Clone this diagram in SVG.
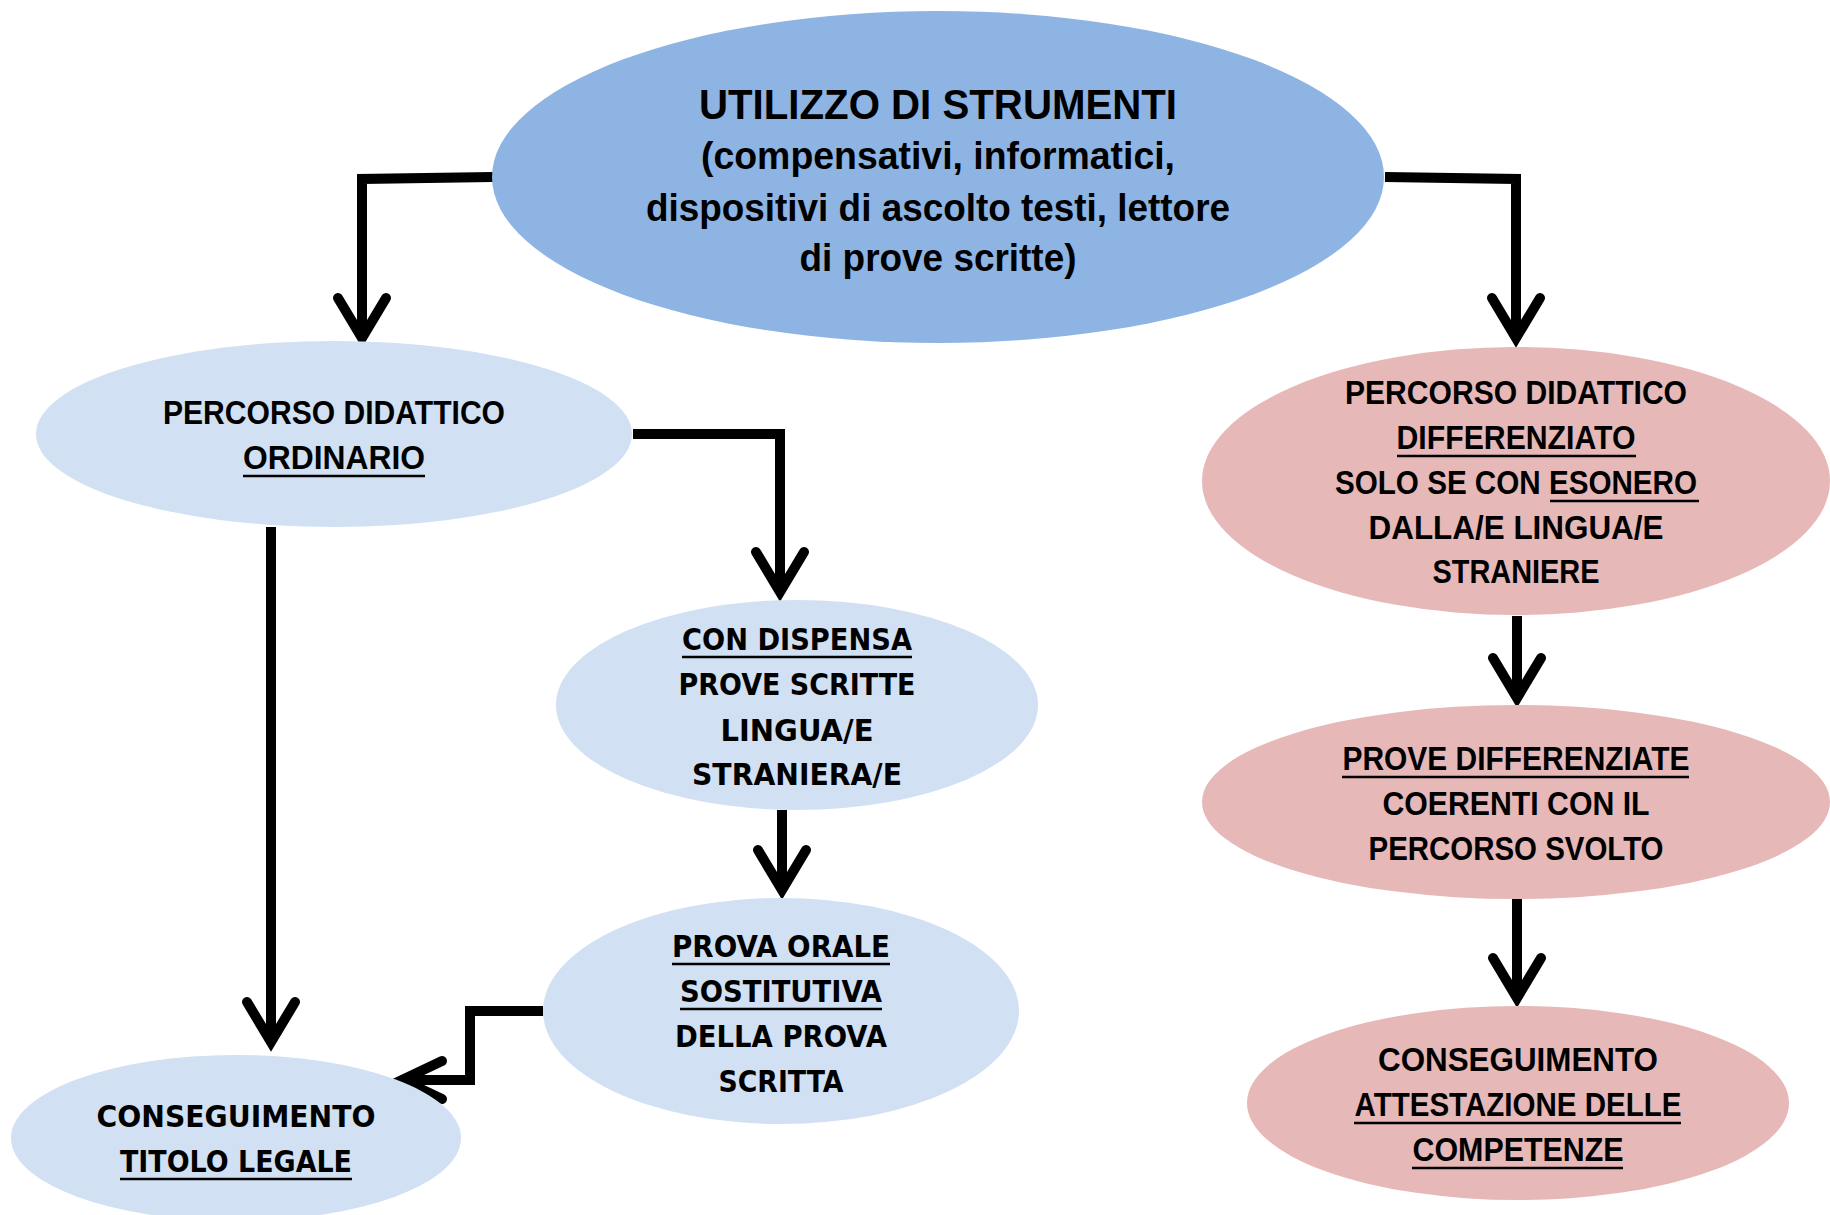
<svg xmlns="http://www.w3.org/2000/svg" width="1830" height="1215" viewBox="0 0 1830 1215">
<style>
.bg{fill:#ffffff}
.dark{fill:#8EB4E3}
.light{fill:#D1E0F3}
.pink{fill:#E6B8B7}
.t{font-family:"Liberation Sans",Arial,sans-serif;font-weight:bold;fill:#000;text-anchor:middle}
.v{font-family:"DejaVu Sans",Verdana,sans-serif;font-weight:bold;fill:#000;text-anchor:middle}
.ul{stroke:#000;stroke-width:2.5}
.c{fill:none;stroke:#000;stroke-width:10;stroke-linejoin:miter}
.ah{fill:none;stroke:#000;stroke-width:10;stroke-linecap:round;stroke-linejoin:miter}
</style>
<rect class="bg" x="0" y="0" width="1830" height="1215"/>
<g id="connectors">
  <path class="c" d="M493,177 L362,179 L362,338"/>
  <path class="ah" d="M338,298 L362,338 L386,298"/>
  <path class="c" d="M1385,177 L1516,179 L1516,338"/>
  <path class="ah" d="M1492,298 L1516,338 L1540,298"/>
  <path class="c" d="M633,434 L780,434 L780,592"/>
  <path class="ah" d="M756,552 L780,592 L804,552"/>
  <path class="c" d="M271,527 L271,1042"/>
  <path class="ah" d="M247,1002 L271,1042 L295,1002"/>
  <path class="c" d="M782,810 L782,890"/>
  <path class="ah" d="M758,850 L782,890 L806,850"/>
  <path class="c" d="M543,1011 L470,1011 L470,1080 L402,1080"/>
  <path class="ah" d="M442,1061 L402,1080 L442,1099"/>
  <path class="c" d="M1517,616 L1517,698"/>
  <path class="ah" d="M1493,658 L1517,698 L1541,658"/>
  <path class="c" d="M1517,899 L1517,998"/>
  <path class="ah" d="M1493,958 L1517,998 L1541,958"/>
</g>
<g id="node-strumenti">
  <ellipse class="dark" cx="938" cy="177" rx="446" ry="166"/>
  <text class="t" x="938" y="119" font-size="43" textLength="478" lengthAdjust="spacingAndGlyphs">UTILIZZO DI STRUMENTI</text>
  <text class="t" x="938" y="169" font-size="38" textLength="474" lengthAdjust="spacingAndGlyphs">(compensativi, informatici,</text>
  <text class="t" x="938" y="221" font-size="38" textLength="584" lengthAdjust="spacingAndGlyphs">dispositivi di ascolto testi, lettore</text>
  <text class="t" x="938" y="271" font-size="38" textLength="277" lengthAdjust="spacingAndGlyphs">di prove scritte)</text>
</g>
<g id="node-ordinario">
  <ellipse class="light" cx="334" cy="434" rx="298" ry="93"/>
  <text class="t" x="334" y="424" font-size="33" textLength="342" lengthAdjust="spacingAndGlyphs">PERCORSO DIDATTICO</text>
  <text class="t" x="334" y="469" font-size="33" textLength="182" lengthAdjust="spacingAndGlyphs">ORDINARIO</text>
  <line class="ul" x1="243" y1="476" x2="425" y2="476"/>
</g>
<g id="node-dispensa">
  <ellipse class="light" cx="797" cy="705" rx="241" ry="105"/>
  <text class="v" x="797" y="650" font-size="31" textLength="230" lengthAdjust="spacingAndGlyphs">CON DISPENSA</text>
  <line class="ul" x1="682" y1="657" x2="912" y2="657"/>
  <text class="v" x="797" y="695" font-size="31" textLength="237" lengthAdjust="spacingAndGlyphs">PROVE SCRITTE</text>
  <text class="v" x="797" y="741" font-size="31" textLength="153" lengthAdjust="spacingAndGlyphs">LINGUA/E</text>
  <text class="v" x="797" y="785" font-size="31" textLength="210" lengthAdjust="spacingAndGlyphs">STRANIERA/E</text>
</g>
<g id="node-orale">
  <ellipse class="light" cx="781" cy="1011" rx="238" ry="113"/>
  <text class="v" x="781" y="957" font-size="31" textLength="218" lengthAdjust="spacingAndGlyphs">PROVA ORALE</text>
  <line class="ul" x1="672" y1="964" x2="890" y2="964"/>
  <text class="v" x="781" y="1002" font-size="31" textLength="202" lengthAdjust="spacingAndGlyphs">SOSTITUTIVA</text>
  <line class="ul" x1="680" y1="1009" x2="882" y2="1009"/>
  <text class="v" x="781" y="1047" font-size="31" textLength="212" lengthAdjust="spacingAndGlyphs">DELLA PROVA</text>
  <text class="v" x="781" y="1092" font-size="31" textLength="125" lengthAdjust="spacingAndGlyphs">SCRITTA</text>
</g>
<g id="node-titolo">
  <ellipse class="light" cx="236" cy="1138" rx="225" ry="83"/>
  <text class="v" x="236" y="1127" font-size="31" textLength="279" lengthAdjust="spacingAndGlyphs">CONSEGUIMENTO</text>
  <text class="v" x="236" y="1172" font-size="31" textLength="232" lengthAdjust="spacingAndGlyphs">TITOLO LEGALE</text>
  <line class="ul" x1="120" y1="1179" x2="352" y2="1179"/>
</g>
<g id="node-differenziato">
  <ellipse class="pink" cx="1516" cy="481" rx="314" ry="134"/>
  <text class="t" x="1516" y="404" font-size="33" textLength="342" lengthAdjust="spacingAndGlyphs">PERCORSO DIDATTICO</text>
  <text class="t" x="1516" y="449" font-size="33" textLength="239" lengthAdjust="spacingAndGlyphs">DIFFERENZIATO</text>
  <line class="ul" x1="1397" y1="456" x2="1636" y2="456"/>
  <text class="t" x="1516" y="494" font-size="33" textLength="362" lengthAdjust="spacingAndGlyphs">SOLO SE CON ESONERO</text>
  <line class="ul" x1="1550" y1="501" x2="1699" y2="501"/>
  <text class="t" x="1516" y="539" font-size="33" textLength="295" lengthAdjust="spacingAndGlyphs">DALLA/E LINGUA/E</text>
  <text class="t" x="1516" y="583" font-size="33" textLength="167" lengthAdjust="spacingAndGlyphs">STRANIERE</text>
</g>
<g id="node-prove">
  <ellipse class="pink" cx="1516" cy="802" rx="314" ry="97"/>
  <text class="t" x="1516" y="770" font-size="33" textLength="347" lengthAdjust="spacingAndGlyphs">PROVE DIFFERENZIATE</text>
  <line class="ul" x1="1342" y1="777" x2="1689" y2="777"/>
  <text class="t" x="1516" y="815" font-size="33" textLength="267" lengthAdjust="spacingAndGlyphs">COERENTI CON IL</text>
  <text class="t" x="1516" y="860" font-size="33" textLength="295" lengthAdjust="spacingAndGlyphs">PERCORSO SVOLTO</text>
</g>
<g id="node-attestazione">
  <ellipse class="pink" cx="1518" cy="1103" rx="271" ry="97"/>
  <text class="t" x="1518" y="1071" font-size="33" textLength="280" lengthAdjust="spacingAndGlyphs">CONSEGUIMENTO</text>
  <text class="t" x="1518" y="1116" font-size="33" textLength="327" lengthAdjust="spacingAndGlyphs">ATTESTAZIONE DELLE</text>
  <line class="ul" x1="1354" y1="1123" x2="1681" y2="1123"/>
  <text class="t" x="1518" y="1161" font-size="33" textLength="211" lengthAdjust="spacingAndGlyphs">COMPETENZE</text>
  <line class="ul" x1="1412" y1="1168" x2="1623" y2="1168"/>
</g>
</svg>
